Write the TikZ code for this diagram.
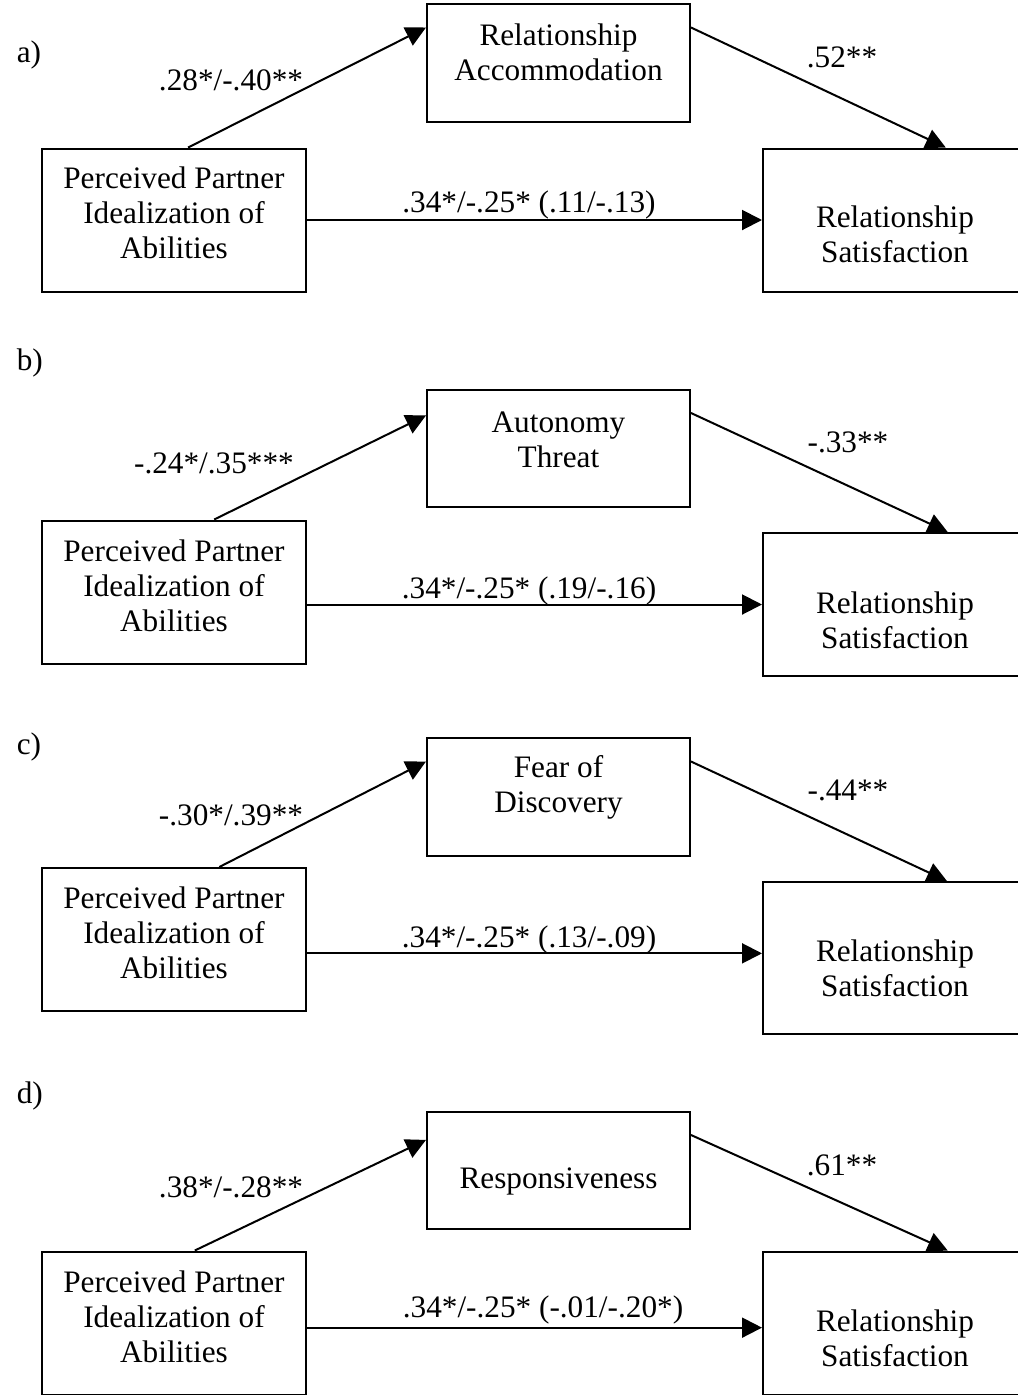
\documentclass[tikz,border=0pt]{standalone}
\usepackage{fontspec}
\setmainfont{Liberation Serif}
\usetikzlibrary{arrows.meta}

\begin{document}
\begin{tikzpicture}[x=0.4pt, y=-0.4pt, font={\fontsize{12.5}{14}\selectfont},
  var/.style={draw, line width=0.8pt, minimum width=105.6pt, minimum height=57.2pt},
  med/.style={var, minimum width=105.2pt, minimum height=47pt},
  txt/.style={align=center},
  link/.style={line width=0.8pt, -{Triangle[length=8pt, width=8pt]}}]
  \useasboundingbox (0,0) rectangle (1018,1395);

  % a)
  \node[anchor=west] (tag-a) at (8,55) {a)};
  \node[med] (acc) at (558.5,63) {};
  \node[txt] (acc-t) at ([yshift=4.4pt]acc.center) {Relationship\\Accommodation};
  \node[var] (ppi-a) at (174,220) {};
  \node[txt] (ppi-a-t) at ([yshift=2.8pt]ppi-a.center) {Perceived Partner\\Idealization of\\Abilities};
  \node[var] (sat-a) at (895,220) {};
  \node[txt] (sat-a-t) at ([yshift=-5.8pt]sat-a.center) {Relationship\\Satisfaction};
  \node (w1-a) at (231,80) {.28*/-.40**};
  \node (w2-a) at (842,57) {.52**};
  \node (w3-a) at (529,205) {.34*/-.25* (.11/-.13)};
  \draw[link] (ppi-a.79) -- (acc.165);
  \draw[link] (acc.15) -- (sat-a.55);
  \draw[link] (ppi-a.east |- sat-a.west) -- (sat-a.west);

  % b)
  \node[anchor=west] (tag-b) at (8,363) {b)};
  \node[med] (aut) at (558.5,448.5) {};
  \node[txt] (aut-t) at ([yshift=3.4pt]aut.center) {Autonomy\\Threat};
  \node[var] (ppi-b) at (174,592) {};
  \node[txt] (ppi-b-t) at ([yshift=2.4pt]ppi-b.center) {Perceived Partner\\Idealization of\\Abilities};
  \node[var] (sat-b) at (895,604.5) {};
  \node[txt] (sat-b-t) at ([yshift=-6.2pt]sat-b.center) {Relationship\\Satisfaction};
  \node (w1-b) at (214,463) {-.24*/.35***};
  \node (w2-b) at (848,442) {-.33**};
  \node (w3-b) at (529,591) {.34*/-.25* (.19/-.16)};
  \draw[link] (ppi-b.61) -- (aut.166);
  \draw[link] (aut.15) -- (sat-b.54);
  \draw[link] (ppi-b.east |- sat-b.west) -- (sat-b.west);

  % c)
  \node[anchor=west] (tag-c) at (8,747) {c)};
  \node[med] (fear) at (558.5,797) {};
  \node[txt] (fear-t) at ([yshift=4pt]fear.center) {Fear of\\Discovery};
  \node[var] (ppi-c) at (174,939.5) {};
  \node[txt] (ppi-c-t) at ([yshift=2.6pt]ppi-c.center) {Perceived Partner\\Idealization of\\Abilities};
  \node[var, minimum height=60.8pt] (sat-c) at (895,958) {};
  \node[txt] (sat-c-t) at ([yshift=-4pt]sat-c.center) {Relationship\\Satisfaction};
  \node (w1-c) at (231,815) {-.30*/.39**};
  \node (w2-c) at (848,790) {-.44**};
  \node (w3-c) at (529,940) {.34*/-.25* (.13/-.09)};
  \draw[link] (ppi-c.58) -- (fear.165);
  \draw[link] (fear.15) -- (sat-c.56);
  \draw[link] (ppi-c.east |- sat-c.178) -- (sat-c.178);

  % d)
  \node[anchor=west] (tag-d) at (8,1096) {d)};
  \node[med] (resp) at (558.5,1170.5) {};
  \node[txt] (resp-t) at ([yshift=-4.2pt]resp.center) {Responsiveness};
  \node[var] (ppi-d) at (174,1323) {};
  \node[txt] (ppi-d-t) at ([yshift=2.4pt]ppi-d.center) {Perceived Partner\\Idealization of\\Abilities};
  \node[var] (sat-d) at (895,1323) {};
  \node[txt] (sat-d-t) at ([yshift=-6pt]sat-d.center) {Relationship\\Satisfaction};
  \node (w1-d) at (231,1187) {.38*/-.28**};
  \node (w2-d) at (842,1165) {.61**};
  \node (w3-d) at (543,1310) {.34*/-.25* (-.01/-.20*)};
  \draw[link] (ppi-d.74) -- (resp.167);
  \draw[link] (resp.15) -- (sat-d.54);
  \draw[link] (ppi-d.east |- sat-d.182) -- (sat-d.182);

\end{tikzpicture}
\end{document}
